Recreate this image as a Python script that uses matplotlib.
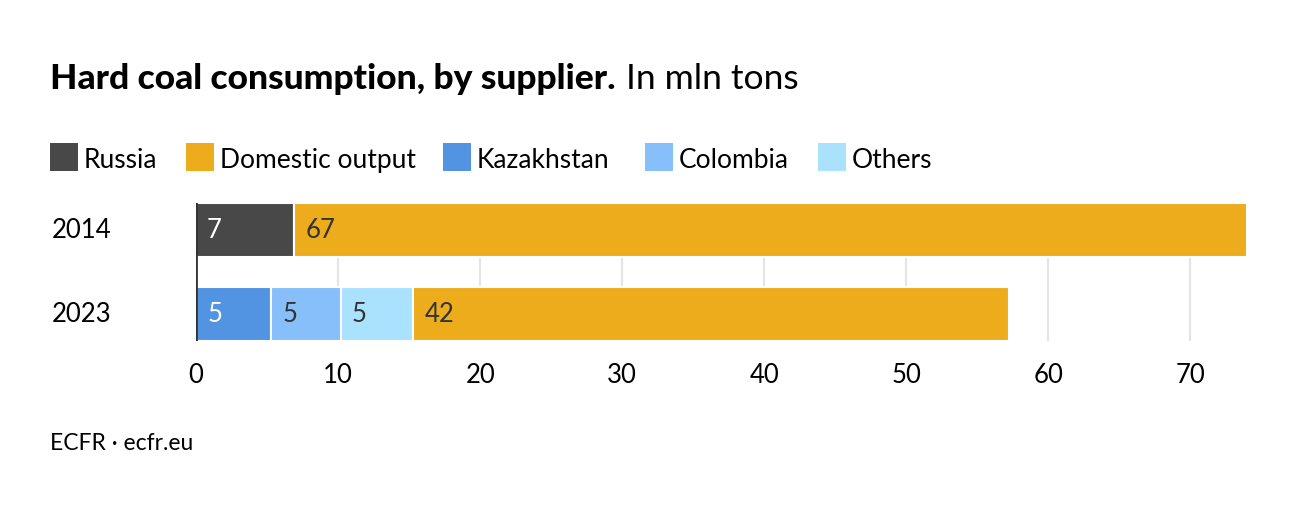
import matplotlib
matplotlib.use("Agg")
import matplotlib.pyplot as plt
from matplotlib.patches import Rectangle
from matplotlib.transforms import blended_transform_factory

plt.rcParams['font.family'] = ['Lato', 'DejaVu Sans']

# ---- data ----
years = ["2014", "2023"]
series = ["Russia", "Domestic output", "Kazakhstan", "Colombia", "Others"]
colors = ["#484848", "#EDAC1C", "#5294E2", "#86BFFA", "#AAE2FD"]
label_colors = ["white", "#333333", "white", "#333333", "#333333"]
# stacking order per year (segments in drawing order)
order_2014 = ["Russia", "Domestic output"]
values_2014 = [6.9, 67.1]
order_2023 = ["Kazakhstan", "Colombia", "Others", "Domestic output"]
values_2023 = [5.3, 4.9, 5.1, 41.9]
xticks = [0, 10, 20, 30, 40, 50, 60, 70]

title_bold = "Hard coal consumption, by supplier."
title_reg = "In mln tons"
source = "ECFR · ecfr.eu"

W, H = 1300, 510
fig = plt.figure(figsize=(W / 100, H / 100), dpi=100)
fig.patch.set_facecolor("white")

def fx(px):
    return px / W

def fy(py):
    return 1 - py / H

ax = fig.add_axes([fx(196), fy(342), fx(1248) - fx(196), (342 - 204) / H])
bar_h = 54 / 84
ax.set_xlim(0, 74.05)
ax.set_ylim(1 + bar_h / 2, -bar_h / 2)

for yi, (order, vals) in enumerate([(order_2014, values_2014), (order_2023, values_2023)]):
    left = 0
    for name, v in zip(order, vals):
        idx = series.index(name)
        ax.barh(yi, v, left=left, height=bar_h, color=colors[idx],
                edgecolor="white", linewidth=1.5, zorder=2)
        ax.annotate(f"{round(v)}", xy=(left, yi), xytext=(8, 0),
                    textcoords="offset points", va="center", ha="left",
                    fontsize=18.5, color=label_colors[idx], zorder=4)
        left += v

for t in xticks[1:]:
    ax.axvline(t, color="#e4e4e4", lw=1.5, zorder=1)
ax.axvline(0, color="#333333", lw=2, zorder=3)

ax.set_xticks(xticks)
ax.set_xticklabels([str(t) for t in xticks], fontsize=18.5, color="black")
ax.tick_params(axis="x", length=0, pad=15)
ax.set_yticks([])
for s in ax.spines.values():
    s.set_visible(False)

trans = blended_transform_factory(fig.transFigure, ax.transData)
for yi, yr in enumerate(years):
    ax.text(fx(52), yi, yr, transform=trans, ha="left", va="center",
            fontsize=18.5, color="black")

# title
fig.canvas.draw()
r = fig.canvas.get_renderer()
t1 = fig.text(fx(50), fy(89), title_bold, fontsize=25.5, fontweight="black",
              ha="left", va="baseline", color="black")
bb = t1.get_window_extent(renderer=r)
fig.text(bb.x1 / W + fx(10), fy(89), title_reg, fontsize=25.5,
         ha="left", va="baseline", color="black")

# legend (swatch positions as in the reference layout)
legend_x = [50, 186, 443, 645, 818]
for x, name, c in zip(legend_x, series, colors):
    fig.patches.append(Rectangle((fx(x), fy(172)), fx(28), 28 / H,
                                 transform=fig.transFigure, facecolor=c,
                                 edgecolor="none"))
    fig.text(fx(x + 34), fy(158), name, fontsize=19, ha="left",
             va="center_baseline", color="black")

fig.text(fx(50), fy(450), source, fontsize=16.5, ha="left", va="baseline",
         color="black")

fig.savefig("out.png", dpi=100, facecolor="white")
